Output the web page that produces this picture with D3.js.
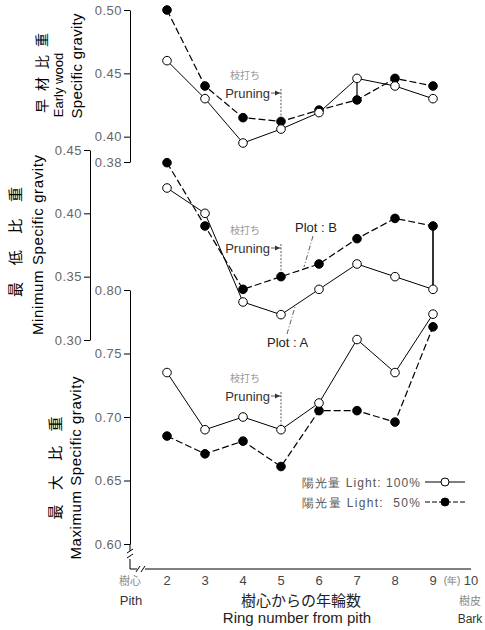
<!DOCTYPE html>
<html>
<head>
<meta charset="utf-8">
<script src="https://cdn.jsdelivr.net/npm/d3@7"></script>
<style>
  body { margin: 0; background: #fff; }
  svg { display: block; font-family: "Liberation Sans", Arial, sans-serif; }
  .tick text { fill: #666; font-size: 13px; letter-spacing: 0.5px; }
  .tick line, .domain { stroke: #000; }
</style>
</head>
<body>
<svg id="chart" width="485" height="630"></svg>
<script>
// ring numbers (x) and the three panels' series
const rings = [2, 3, 4, 5, 6, 7, 8, 9];
const xTicks = [2, 3, 4, 5, 6, 7, 8, 9, 10];

const earlyFull = [0.460, 0.430, 0.395, 0.406, 0.419, 0.446, 0.440, 0.430];
const earlyHalf = [0.500, 0.440, 0.415, 0.412, 0.421, 0.429, 0.446, 0.440];
const minFull = [0.420, 0.400, 0.330, 0.320, 0.340, 0.360, 0.350, 0.340];
const minHalf = [0.440, 0.390, 0.340, 0.350, 0.360, 0.380, 0.396, 0.390];
const maxFull = [0.735, 0.690, 0.700, 0.690, 0.711, 0.761, 0.735, 0.781];
const maxHalf = [0.685, 0.671, 0.681, 0.661, 0.705, 0.705, 0.696, 0.771];

const earlyTicks = [0.50, 0.45, 0.40, 0.38];
const minTicks = [0.45, 0.40, 0.35, 0.30];
const maxTicks = [0.80, 0.75, 0.70, 0.65, 0.60];

const svg = d3.select("#chart");

const x = d3.scaleLinear().domain([1, 10]).range([129, 471]);
const yEarly = d3.scaleLinear().domain([0.38, 0.50]).range([162, 10]);
const yMin = d3.scaleLinear().domain([0.30, 0.45]).range([340, 150]);
const yMax = d3.scaleLinear().domain([0.60, 0.80]).range([544, 290]);

function drawAxis(scale, ticks, xPos) {
    svg.append("g")
        .attr("transform", `translate(${xPos},0)`)
        .call(d3.axisLeft(scale).tickValues(ticks).tickSize(6).tickSizeOuter(0)
            .tickPadding(2).tickFormat(d3.format(".2f")));
}

drawAxis(yEarly, earlyTicks, 130);
drawAxis(yMin, minTicks, 90);
drawAxis(yMax, maxTicks, 130);

// bottom axis continues below 0.60 with a break to the corner
svg.append("line").attr("x1", 130).attr("x2", 130).attr("y1", 544).attr("y2", 551).attr("stroke", "#000");
svg.append("line").attr("x1", 130).attr("x2", 130).attr("y1", 559).attr("y2", 569).attr("stroke", "#000");
svg.append("line").attr("x1", 130).attr("x2", 137).attr("y1", 569).attr("y2", 569).attr("stroke", "#000");
svg.append("line").attr("x1", 145).attr("x2", x(10)).attr("y1", 569).attr("y2", 569).attr("stroke", "#000");
[[127, 553, 133, 549], [127, 558, 133, 554], [136, 572, 140, 566], [141, 572, 145, 566]].forEach(b => {
    svg.append("line").attr("x1", b[0]).attr("y1", b[1]).attr("x2", b[2]).attr("y2", b[3])
        .attr("stroke", "#000").attr("stroke-width", 1);
});

// x tick labels
svg.append("g").selectAll("text").data(xTicks).join("text")
    .attr("x", d => x(d)).attr("y", 585)
    .attr("text-anchor", "middle").attr("font-size", 13).attr("fill", "#444")
    .text(d => d);
svg.append("text").attr("x", 452).attr("y", 584).attr("text-anchor", "middle")
    .attr("font-size", 10).attr("fill", "#777").text("(年)");

svg.append("text").attr("x", 130).attr("y", 585).attr("text-anchor", "middle")
    .attr("font-size", 11).attr("fill", "#888").attr("font-family", "Noto Sans CJK JP").text("樹心");
svg.append("text").attr("x", 131).attr("y", 605).attr("text-anchor", "middle")
    .attr("font-size", 13).attr("fill", "#333").text("Pith");
svg.append("text").attr("x", 470).attr("y", 605).attr("text-anchor", "middle")
    .attr("font-size", 11).attr("fill", "#888").attr("font-family", "Noto Sans CJK JP").text("樹皮");
svg.append("text").attr("x", 470).attr("y", 623).attr("text-anchor", "middle")
    .attr("font-size", 12).attr("fill", "#333").text("Bark");

svg.append("text").attr("x", 301).attr("y", 606).attr("text-anchor", "middle")
    .attr("font-size", 15).attr("fill", "#222").attr("font-family", "Noto Sans CJK JP").text("樹心からの年輪数");
svg.append("text").attr("x", 297).attr("y", 623).attr("text-anchor", "middle")
    .attr("font-size", 15).attr("fill", "#222").text("Ring number from pith");

// rotated y titles
function vText(cx, cy, txt, size, len, cjk) {
    const t = svg.append("text")
        .attr("transform", `translate(${cx},${cy}) rotate(-90)`)
        .attr("text-anchor", "middle").attr("dy", "0.35em")
        .attr("font-size", size).attr("fill", "#000")
        .text(txt);
    if (len) t.attr("textLength", len).attr("lengthAdjust", "spacing");
    if (cjk) t.attr("font-family", "Noto Sans CJK JP");
}
vText(42, 73, "早材比重", 14, 80, true);
vText(58, 85, "Early wood", 13);
vText(77, 66, "Specific gravity", 15, 105);
vText(16, 242, "最低比重", 15, 110, true);
vText(38, 245, "Minimum Specific gravity", 15, 180);
vText(56, 468, "最大比重", 15, 103, true);
vText(76, 468, "Maximum Specific gravity", 15, 183);

// series
function drawSeries(scale, vals, filled) {
    const line = d3.line().x((d, i) => x(rings[i])).y(d => scale(d));
    svg.append("path").datum(vals).attr("d", line)
        .attr("fill", "none").attr("stroke", "#000").attr("stroke-width", filled ? 1.2 : 1)
        .attr("stroke-dasharray", filled ? "7,3" : null);
    svg.append("g").selectAll("circle").data(vals).join("circle")
        .attr("cx", (d, i) => x(rings[i])).attr("cy", d => scale(d)).attr("r", 4.3)
        .attr("fill", filled ? "#000" : "#fff").attr("stroke", "#000").attr("stroke-width", 1);
}

// vertical joins drawn in the original
svg.append("line").attr("x1", x(7)).attr("x2", x(7))
    .attr("y1", yEarly(earlyFull[5])).attr("y2", yEarly(earlyHalf[5])).attr("stroke", "#000").attr("stroke-width", 1.2);
svg.append("line").attr("x1", x(9)).attr("x2", x(9))
    .attr("y1", yMin(minFull[7])).attr("y2", yMin(minHalf[7])).attr("stroke", "#000").attr("stroke-width", 1.6);

drawSeries(yEarly, earlyHalf, true);
drawSeries(yEarly, earlyFull, false);
drawSeries(yMin, minHalf, true);
drawSeries(yMin, minFull, false);
drawSeries(yMax, maxHalf, true);
drawSeries(yMax, maxFull, false);

// pruning notes at ring 5
function pruning(labelY, markerY) {
    const px = x(5);
    svg.append("text").attr("x", px - 36).attr("y", labelY - 14).attr("text-anchor", "middle")
        .attr("font-size", 10).attr("fill", "#999").attr("font-family", "Noto Sans CJK JP").text("枝打ち");
    svg.append("text").attr("x", px - 11).attr("y", labelY + 4.5).attr("text-anchor", "end")
        .attr("font-size", 13).attr("fill", "#333").text("Pruning");
    svg.append("line").attr("x1", px - 10).attr("x2", px).attr("y1", labelY).attr("y2", labelY)
        .attr("stroke", "#333").attr("stroke-width", 0.8);
    svg.append("path").attr("d", `M${px - 1},${labelY} l-5,-2.5 l0,5 z`).attr("fill", "#333");
    svg.append("line").attr("x1", px).attr("x2", px).attr("y1", labelY - 4).attr("y2", markerY - 5)
        .attr("stroke", "#333").attr("stroke-width", 0.8).attr("stroke-dasharray", "2,1.5");
}
pruning(93, yEarly(earlyHalf[3]));
pruning(248, yMin(minHalf[3]));
pruning(396, yMax(maxFull[3]));

// plot labels
svg.append("text").attr("x", 295).attr("y", 232).attr("font-size", 13).attr("fill", "#222").text("Plot : B");
svg.append("line").attr("x1", 313).attr("y1", 236).attr("x2", 304).attr("y2", 267)
    .attr("stroke", "#333").attr("stroke-width", 0.8).attr("stroke-dasharray", "5,2,1,2");
svg.append("text").attr("x", 267).attr("y", 347).attr("font-size", 13).attr("fill", "#222").text("Plot : A");
svg.append("line").attr("x1", 287).attr("y1", 334).attr("x2", 295).attr("y2", 307)
    .attr("stroke", "#333").attr("stroke-width", 0.8).attr("stroke-dasharray", "5,2,1,2");

// legend
const legendRows = [
    { label: "陽光量 Light: 100%", filled: false, y: 482 },
    { label: "陽光量 Light:  50%", filled: true, y: 502 }
];
legendRows.forEach(r => {
    svg.append("text").attr("x", 302).attr("y", r.y + 4.5).attr("font-size", 12).attr("fill", "#555")
        .attr("textLength", 118).attr("lengthAdjust", "spacing")
        .attr("xml:space", "preserve").text(r.label);
    svg.append("line").attr("x1", 425).attr("x2", 465).attr("y1", r.y).attr("y2", r.y)
        .attr("stroke", "#000").attr("stroke-dasharray", r.filled ? "5,2" : null);
    svg.append("circle").attr("cx", 445).attr("cy", r.y).attr("r", 4)
        .attr("fill", r.filled ? "#000" : "#fff").attr("stroke", "#000");
});
</script>
</body>
</html>
